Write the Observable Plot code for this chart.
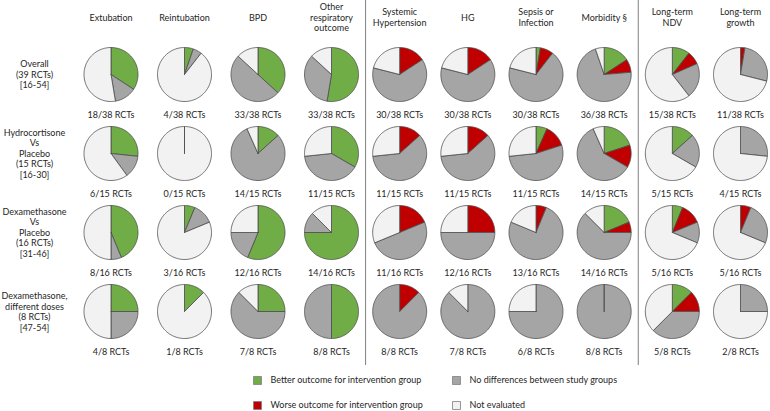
<!DOCTYPE html>
<html><head><meta charset="utf-8">
<script src="https://cdn.jsdelivr.net/npm/d3@7"></script>
<script src="https://cdn.jsdelivr.net/npm/@observablehq/plot@0.6"></script>
<style>body{margin:0;background:#fff}</style>
</head><body><div id="chart"></div>
<script>
const outcomes = ["Extubation", "Reintubation", "BPD", "Other\nrespiratory\noutcome", "Systemic\nHypertension", "HG", "Sepsis or\nInfection", "Morbidity §", "Long-term\nNDV", "Long-term\ngrowth"];
const groups = ["Overall\n(39 RCTs)\n[16-54]", "Hydrocortisone\nVs\nPlacebo\n(15 RCTs)\n[16-30]", "Dexamethasone\nVs\nPlacebo\n(16 RCTs)\n[31-46]", "Dexamethasone,\ndifferent doses\n(8 RCTs)\n[47-54]"];
const totalRCTs = [38, 15, 16, 8];
// RCT counts per group (rows) and outcome (columns)
const better = [
  [13, 2, 14, 20, 0, 0, 1, 6, 4, 0],
  [4, 0, 2, 5, 0, 0, 1, 3, 2, 0],
  [7, 1, 9, 12, 0, 0, 0, 3, 1, 0],
  [2, 1, 2, 4, 0, 0, 0, 0, 1, 0]
];
const worse = [
  [0, 0, 0, 0, 6, 6, 3, 3, 3, 1],
  [0, 0, 0, 0, 2, 2, 2, 2, 0, 0],
  [0, 0, 0, 0, 3, 4, 1, 1, 2, 1],
  [0, 0, 0, 0, 1, 0, 0, 0, 1, 0]
];
const noDiff = [
  [5, 2, 19, 13, 24, 24, 26, 27, 8, 10],
  [2, 0, 12, 6, 9, 9, 8, 9, 3, 4],
  [1, 2, 3, 2, 8, 8, 12, 10, 2, 4],
  [2, 0, 5, 4, 7, 7, 6, 8, 3, 2]
];
const categories = ["Better outcome for intervention group", "Worse outcome for intervention group", "No differences between study groups", "Not evaluated"];
const colors = ["#70ad47", "#c00000", "#a5a5a5", "#f2f2f2"];

// scale layout: columns 0-3 (respiratory) and 3-9 use slightly different spacing
const XD = [0, 3, 9], XR = [110.5, 331, 740];
const Y0 = 74, YSTEP = 79, R = 27;
const stepL = (XR[1] - XR[0]) / (XD[1] - XD[0]), stepR = (XR[2] - XR[1]) / (XD[2] - XD[1]);
const pxPerUnit = (c, s) => (c < 3 || (c === 3 && s < 0)) ? stepL : stepR;
const RY = R / YSTEP;
const yOf = px => (px - Y0) / YSTEP;
const xOf = px => px <= XR[1] ? (px - XR[0]) / stepL : 3 + (px - XR[1]) / stepR;

const wedges = [];
const pies = [];
groups.forEach((g, r) => outcomes.forEach((o, c) => {
  const n = totalRCTs[r];
  const vals = [better[r][c], worse[r][c], noDiff[r][c]];
  const evaluated = d3.sum(vals);
  vals.push(n - evaluated);
  pies.push({x: c, y: r, label: `${evaluated}/${n} RCTs`});
  let a0 = 0;
  vals.forEach((v, k) => {
    if (v <= 0) return;
    const a1 = a0 + v / n * 2 * Math.PI;
    const id = `${r}-${c}-${k}`;
    const cat = categories[k];
    wedges.push({id, cat, x: c, y: r});
    const steps = Math.max(2, Math.ceil((a1 - a0) / (Math.PI / 90)));
    for (let i = 0; i <= steps; i++) {
      const a = a0 + (a1 - a0) * i / steps;
      const s = Math.sin(a);
      wedges.push({id, cat, x: c + R / pxPerUnit(c, s) * s, y: r - RY * Math.cos(a)});
    }
    wedges.push({id, cat, x: c, y: r});
    a0 = a1;
  });
}));

const legend = categories.map((cat, k) => {
  const px = k < 2 ? 257 : 456;
  return {cat, x: xOf(px), tx: xOf(px + 13), y: k % 2 === 0 ? yOf(380) : yOf(405)};
});

const font = "Lato, 'Open Sans', sans-serif";
const textColor = "#262626";
const fs = 9;

const chart = Plot.plot({
  width: 770,
  height: 411,
  margin: 0,
  style: {fontFamily: font, fontSize: fs + "px", color: textColor, background: "#fff"},
  x: {type: "linear", domain: XD, range: XR, axis: null},
  y: {domain: [0, 3], range: [Y0, Y0 + 3 * YSTEP], axis: null},
  color: {domain: categories, range: colors},
  marks: [
    Plot.ruleX([3.5, 7.5], {x: d => d, y1: () => yOf(0), y2: () => yOf(365), stroke: "#7f7f7f", strokeWidth: 1}),
    Plot.line(wedges, {x: "x", y: "y", z: "id", fill: "cat", stroke: "#4d4d4d", strokeWidth: 0.8, curve: "linear", strokeLinejoin: "round"}),
    Plot.text(outcomes, {x: (d, i) => i, y: () => yOf(16.5), text: d => d, lineHeight: 1.22, fill: textColor, fontSize: fs}),
    Plot.text(groups, {x: () => xOf(34), y: (d, i) => i, text: d => d, lineHeight: 1.17, fill: textColor, fontSize: fs}),
    Plot.text(pies, {x: "x", y: d => d.y + 41 / YSTEP, text: "label", fill: textColor, fontSize: fs}),
    Plot.dot(legend, {x: "x", y: "y", fill: "cat", stroke: "#7f7f7f", strokeWidth: 0.8, symbol: "square", r: 4.5}),
    Plot.text(legend, {x: "tx", y: "y", text: "cat", textAnchor: "start", fill: textColor, fontSize: fs})
  ]
});
document.getElementById("chart").appendChild(chart);
</script>
</body></html>
